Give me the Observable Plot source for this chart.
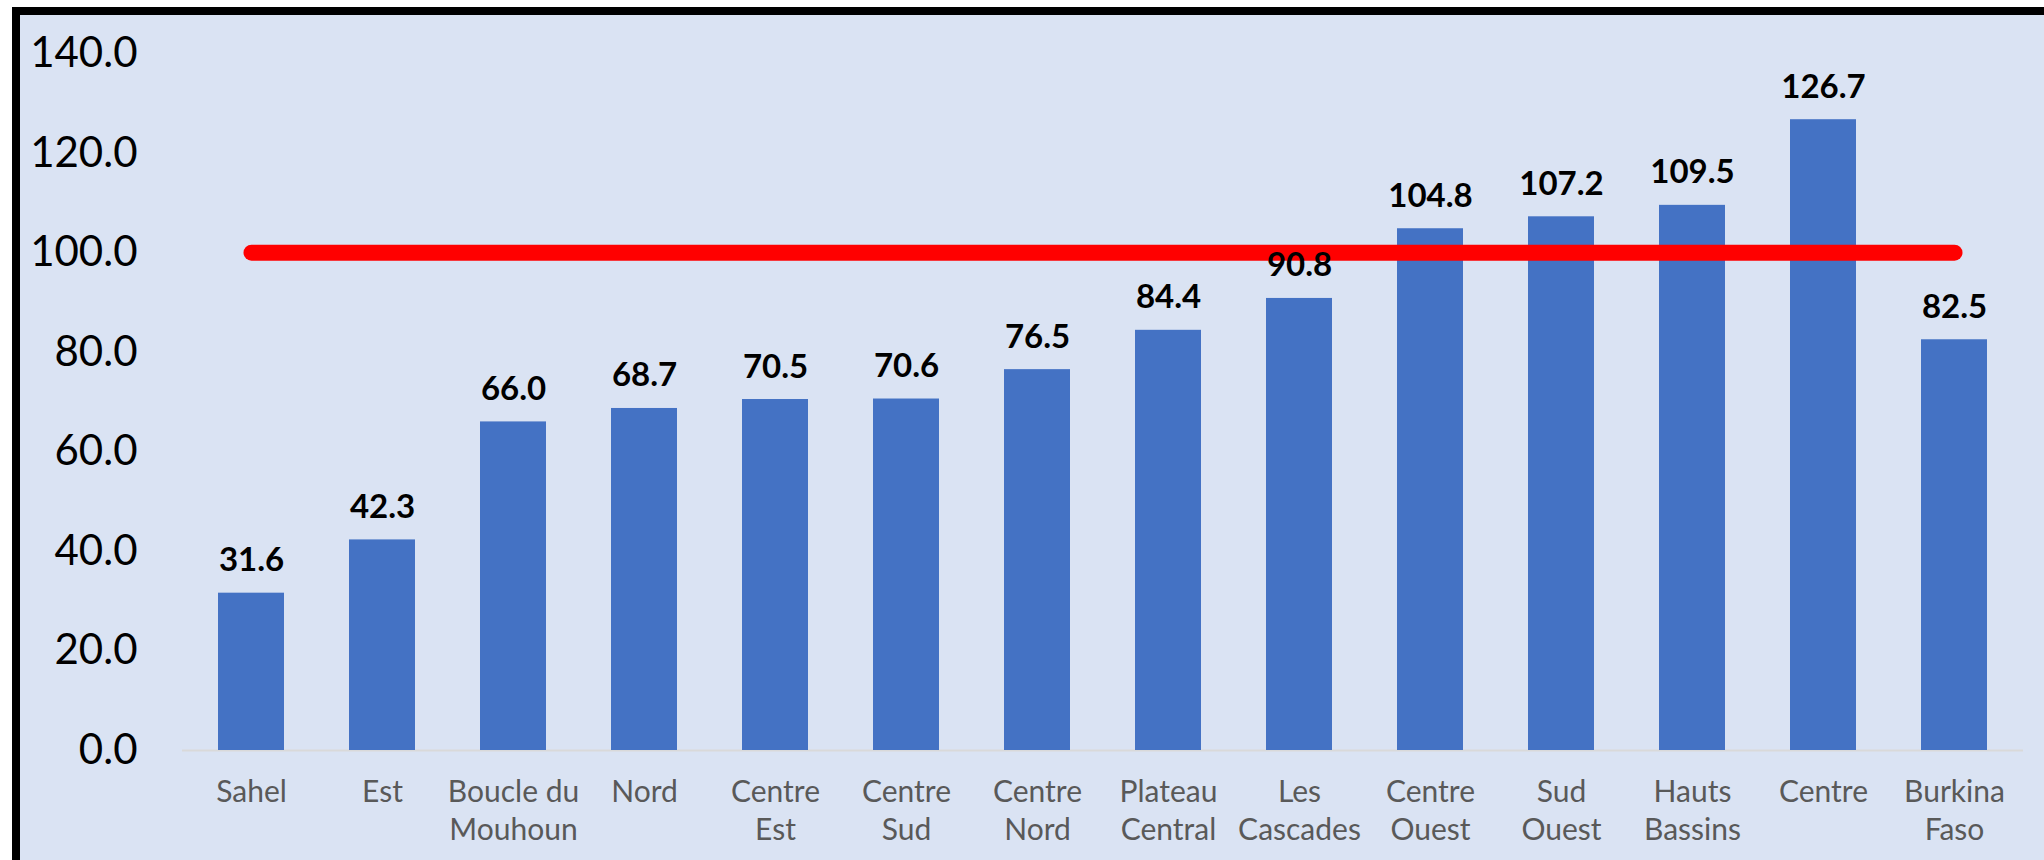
<!DOCTYPE html>
<html>
<head>
<meta charset="utf-8">
<script src="https://cdn.jsdelivr.net/npm/d3@7"></script>
<script src="https://cdn.jsdelivr.net/npm/@observablehq/plot@0.6"></script>
<style>
  html, body { margin: 0; padding: 0; background: #ffffff; overflow: hidden; width: 2044px; height: 860px; }
  #bg { position: absolute; left: 12px; top: 7px; width: 2100px; height: 900px; box-sizing: border-box;
        border-left: 8px solid #000; border-top: 8px solid #000; background: #DAE3F3; }
  #chart { position: absolute; left: 0; top: 0; }
</style>
</head>
<body>
<div id="bg"></div>
<div id="chart"></div>
<script>
const categories = ["Sahel", "Est", "Boucle du Mouhoun", "Nord", "Centre Est", "Centre Sud", "Centre Nord",
  "Plateau Central", "Les Cascades", "Centre Ouest", "Sud Ouest", "Hauts Bassins", "Centre", "Burkina Faso"];
const tickLabels = ["Sahel", "Est", "Boucle du\nMouhoun", "Nord", "Centre\nEst", "Centre\nSud", "Centre\nNord",
  "Plateau\nCentral", "Les\nCascades", "Centre\nOuest", "Sud\nOuest", "Hauts\nBassins", "Centre", "Burkina\nFaso"];
const values = [31.6, 42.3, 66.0, 68.7, 70.5, 70.6, 76.5, 84.4, 90.8, 104.8, 107.2, 109.5, 126.7, 82.5];
const referenceValue = 100;
const yTicks = [0, 20, 40, 60, 80, 100, 120, 140];

const data = categories.map((c, i) => ({region: c, value: values[i]}));
const refData = categories.map(c => ({region: c, value: referenceValue}));
const labelOf = new Map(categories.map((c, i) => [c, tickLabels[i]]));

const chart = Plot.plot({
  width: 2044,
  height: 860,
  marginLeft: 182,
  marginRight: 21,
  marginTop: 53,
  marginBottom: 110,
  style: {background: "transparent", fontFamily: "Lato, 'Open Sans', sans-serif"},
  x: {type: "band", domain: categories, paddingInner: 0.5, paddingOuter: 0.25, label: null},
  y: {domain: [0, 140], label: null},
  marks: [
    Plot.axisY({ticks: yTicks, tickFormat: d => d.toFixed(1), tickSize: 0, tickPadding: 45,
      fontSize: 42, fill: "#000000", label: null}),
    Plot.axisX({tickSize: 0, tickPadding: 24, tickFormat: d => labelOf.get(d), fontSize: 30,
      fill: "#595959", lineHeight: 1.27, label: null}),
    Plot.ruleY([0], {stroke: "#D9D9D9", strokeWidth: 2}),
    Plot.barY(data, {x: "region", y: "value", fill: "#4472C4"}),
    Plot.line(refData, {x: "region", y: "value", stroke: "#FF0000", strokeWidth: 16, strokeLinecap: "round"}),
    Plot.text(data, {x: "region", y: "value", text: d => d.value.toFixed(1), fontSize: 33, fontWeight: "bold",
      fill: "#000000", lineAnchor: "bottom", dy: -22})
  ]
});
document.getElementById("chart").appendChild(chart);
</script>
</body>
</html>
